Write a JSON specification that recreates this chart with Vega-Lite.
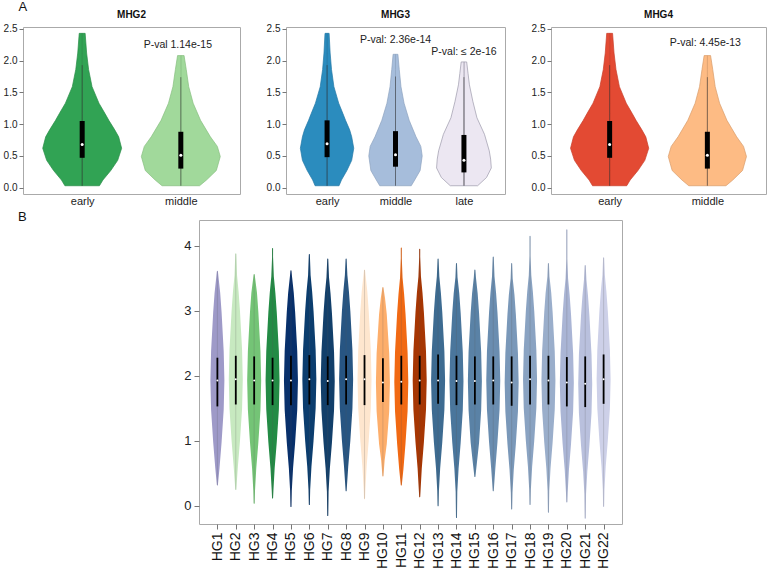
{
"$schema":"https://vega.github.io/schema/vega-lite/v6.json",
"padding":{"left":2,"top":1,"right":2,"bottom":2},
"background":"white",
"title":{"text":"A","anchor":"start","fontSize":13,"fontWeight":"normal","dx":16,"offset":-5},
"datasets":{
"p2":[
{"g":"early","y":0.03,"w":0.175},{"g":"early","y":0.12,"w":0.21},{"g":"early","y":0.27,"w":0.29},{"g":"early","y":0.43,"w":0.36},{"g":"early","y":0.62,"w":0.40},{"g":"early","y":0.80,"w":0.37},{"g":"early","y":0.91,"w":0.33},{"g":"early","y":1.06,"w":0.27},{"g":"early","y":1.17,"w":0.23},{"g":"early","y":1.33,"w":0.17},{"g":"early","y":1.59,"w":0.10},{"g":"early","y":1.86,"w":0.065},{"g":"early","y":2.12,"w":0.045},{"g":"early","y":2.43,"w":0.03},
{"g":"middle","y":0.03,"w":0.19},{"g":"middle","y":0.12,"w":0.26},{"g":"middle","y":0.27,"w":0.36},{"g":"middle","y":0.49,"w":0.40},{"g":"middle","y":0.65,"w":0.37},{"g":"middle","y":0.80,"w":0.30},{"g":"middle","y":1.06,"w":0.20},{"g":"middle","y":1.33,"w":0.125},{"g":"middle","y":1.59,"w":0.08},{"g":"middle","y":1.86,"w":0.055},{"g":"middle","y":2.08,"w":0.033}
],
"p2s":[
{"g":"early","lo":0.03,"q1":0.47,"med":0.68,"q3":1.05,"hi":1.93},
{"g":"middle","lo":0.03,"q1":0.30,"med":0.51,"q3":0.88,"hi":1.74}
],
"p3":[
{"g":"early","y":0.03,"w":0.175},{"g":"early","y":0.12,"w":0.21},{"g":"early","y":0.27,"w":0.29},{"g":"early","y":0.43,"w":0.36},{"g":"early","y":0.62,"w":0.39},{"g":"early","y":0.80,"w":0.36},{"g":"early","y":0.91,"w":0.33},{"g":"early","y":1.06,"w":0.27},{"g":"early","y":1.17,"w":0.23},{"g":"early","y":1.33,"w":0.17},{"g":"early","y":1.59,"w":0.10},{"g":"early","y":1.86,"w":0.065},{"g":"early","y":2.12,"w":0.045},{"g":"early","y":2.43,"w":0.03},
{"g":"middle","y":0.03,"w":0.23},{"g":"middle","y":0.12,"w":0.28},{"g":"middle","y":0.27,"w":0.36},{"g":"middle","y":0.50,"w":0.39},{"g":"middle","y":0.65,"w":0.37},{"g":"middle","y":0.80,"w":0.30},{"g":"middle","y":1.06,"w":0.20},{"g":"middle","y":1.33,"w":0.125},{"g":"middle","y":1.59,"w":0.08},{"g":"middle","y":1.86,"w":0.055},{"g":"middle","y":2.10,"w":0.035},
{"g":"late","y":0.03,"w":0.20},{"g":"late","y":0.16,"w":0.33},{"g":"late","y":0.31,"w":0.40},{"g":"late","y":0.45,"w":0.39},{"g":"late","y":0.58,"w":0.37},{"g":"late","y":0.84,"w":0.30},{"g":"late","y":1.10,"w":0.19},{"g":"late","y":1.36,"w":0.13},{"g":"late","y":1.62,"w":0.08},{"g":"late","y":1.80,"w":0.06},{"g":"late","y":1.98,"w":0.04}
],
"p3s":[
{"g":"early","lo":0.03,"q1":0.48,"med":0.69,"q3":1.06,"hi":1.93},
{"g":"middle","lo":0.03,"q1":0.33,"med":0.52,"q3":0.89,"hi":1.75},
{"g":"late","lo":0.03,"q1":0.24,"med":0.43,"q3":0.83,"hi":1.74}
],
"hg":[
{"g":"HG1","y":0.32,"w":0},{"g":"HG1","y":0.58,"w":0.3},{"g":"HG1","y":0.98,"w":0.6},{"g":"HG1","y":1.48,"w":0.9},{"g":"HG1","y":1.93,"w":1},{"g":"HG1","y":2.38,"w":0.9},{"g":"HG1","y":2.98,"w":0.6},{"g":"HG1","y":3.28,"w":0.4},{"g":"HG1","y":3.53,"w":0.15},{"g":"HG1","y":3.61,"w":0},
{"g":"HG2","y":0.25,"w":0},{"g":"HG2","y":0.6,"w":0.3},{"g":"HG2","y":1.0,"w":0.6},{"g":"HG2","y":1.5,"w":0.9},{"g":"HG2","y":1.95,"w":1},{"g":"HG2","y":2.4,"w":0.9},{"g":"HG2","y":3.0,"w":0.6},{"g":"HG2","y":3.3,"w":0.4},{"g":"HG2","y":3.55,"w":0.18},{"g":"HG2","y":3.88,"w":0},
{"g":"HG3","y":0.04,"w":0},{"g":"HG3","y":0.23,"w":0.12},{"g":"HG3","y":0.58,"w":0.3},{"g":"HG3","y":0.98,"w":0.6},{"g":"HG3","y":1.48,"w":0.9},{"g":"HG3","y":1.93,"w":1},{"g":"HG3","y":2.38,"w":0.9},{"g":"HG3","y":2.98,"w":0.6},{"g":"HG3","y":3.28,"w":0.4},{"g":"HG3","y":3.56,"w":0},
{"g":"HG4","y":0.12,"w":0},{"g":"HG4","y":0.23,"w":0.12},{"g":"HG4","y":0.58,"w":0.3},{"g":"HG4","y":0.98,"w":0.6},{"g":"HG4","y":1.48,"w":0.9},{"g":"HG4","y":1.93,"w":1},{"g":"HG4","y":2.38,"w":0.9},{"g":"HG4","y":2.98,"w":0.6},{"g":"HG4","y":3.28,"w":0.4},{"g":"HG4","y":3.53,"w":0.18},{"g":"HG4","y":3.83,"w":0.07},{"g":"HG4","y":3.96,"w":0},
{"g":"HG5","y":-0.01,"w":0},{"g":"HG5","y":0.23,"w":0.12},{"g":"HG5","y":0.58,"w":0.3},{"g":"HG5","y":0.98,"w":0.6},{"g":"HG5","y":1.48,"w":0.9},{"g":"HG5","y":1.93,"w":1},{"g":"HG5","y":2.38,"w":0.9},{"g":"HG5","y":2.98,"w":0.6},{"g":"HG5","y":3.28,"w":0.4},{"g":"HG5","y":3.53,"w":0.15},{"g":"HG5","y":3.62,"w":0},
{"g":"HG6","y":0.02,"w":0},{"g":"HG6","y":0.25,"w":0.12},{"g":"HG6","y":0.6,"w":0.3},{"g":"HG6","y":1.0,"w":0.6},{"g":"HG6","y":1.5,"w":0.9},{"g":"HG6","y":1.95,"w":1},{"g":"HG6","y":2.4,"w":0.9},{"g":"HG6","y":3.0,"w":0.6},{"g":"HG6","y":3.3,"w":0.4},{"g":"HG6","y":3.55,"w":0.18},{"g":"HG6","y":3.87,"w":0},
{"g":"HG7","y":-0.15,"w":0},{"g":"HG7","y":0.22,"w":0.12},{"g":"HG7","y":0.57,"w":0.3},{"g":"HG7","y":0.97,"w":0.6},{"g":"HG7","y":1.47,"w":0.9},{"g":"HG7","y":1.92,"w":1},{"g":"HG7","y":2.37,"w":0.9},{"g":"HG7","y":2.97,"w":0.6},{"g":"HG7","y":3.27,"w":0.4},{"g":"HG7","y":3.52,"w":0.18},{"g":"HG7","y":3.8,"w":0},
{"g":"HG8","y":0.23,"w":0},{"g":"HG8","y":0.6,"w":0.3},{"g":"HG8","y":1.0,"w":0.6},{"g":"HG8","y":1.5,"w":0.9},{"g":"HG8","y":1.95,"w":1},{"g":"HG8","y":2.4,"w":0.9},{"g":"HG8","y":3.0,"w":0.6},{"g":"HG8","y":3.3,"w":0.4},{"g":"HG8","y":3.55,"w":0.18},{"g":"HG8","y":3.8,"w":0},
{"g":"HG9","y":0.11,"w":0},{"g":"HG9","y":0.25,"w":0.12},{"g":"HG9","y":0.6,"w":0.3},{"g":"HG9","y":1.0,"w":0.6},{"g":"HG9","y":1.5,"w":0.9},{"g":"HG9","y":1.95,"w":1},{"g":"HG9","y":2.4,"w":0.9},{"g":"HG9","y":3.0,"w":0.6},{"g":"HG9","y":3.3,"w":0.4},{"g":"HG9","y":3.55,"w":0.15},{"g":"HG9","y":3.63,"w":0},
{"g":"HG10","y":0.46,"w":0},{"g":"HG10","y":0.7,"w":0.25},{"g":"HG10","y":0.95,"w":0.55},{"g":"HG10","y":1.45,"w":0.9},{"g":"HG10","y":1.9,"w":1},{"g":"HG10","y":2.35,"w":0.9},{"g":"HG10","y":2.95,"w":0.55},{"g":"HG10","y":3.2,"w":0.3},{"g":"HG10","y":3.36,"w":0},
{"g":"HG11","y":0.32,"w":0},{"g":"HG11","y":0.56,"w":0.3},{"g":"HG11","y":0.96,"w":0.6},{"g":"HG11","y":1.46,"w":0.9},{"g":"HG11","y":1.91,"w":1},{"g":"HG11","y":2.36,"w":0.9},{"g":"HG11","y":2.96,"w":0.6},{"g":"HG11","y":3.26,"w":0.4},{"g":"HG11","y":3.51,"w":0.18},{"g":"HG11","y":3.81,"w":0.07},{"g":"HG11","y":3.97,"w":0},
{"g":"HG12","y":0.14,"w":0},{"g":"HG12","y":0.23,"w":0.12},{"g":"HG12","y":0.58,"w":0.3},{"g":"HG12","y":0.98,"w":0.6},{"g":"HG12","y":1.48,"w":0.9},{"g":"HG12","y":1.93,"w":1},{"g":"HG12","y":2.38,"w":0.9},{"g":"HG12","y":2.98,"w":0.6},{"g":"HG12","y":3.28,"w":0.4},{"g":"HG12","y":3.53,"w":0.18},{"g":"HG12","y":3.83,"w":0.07},{"g":"HG12","y":3.95,"w":0},
{"g":"HG13","y":0.0,"w":0},{"g":"HG13","y":0.23,"w":0.12},{"g":"HG13","y":0.58,"w":0.3},{"g":"HG13","y":0.98,"w":0.6},{"g":"HG13","y":1.48,"w":0.9},{"g":"HG13","y":1.93,"w":1},{"g":"HG13","y":2.38,"w":0.9},{"g":"HG13","y":2.98,"w":0.6},{"g":"HG13","y":3.28,"w":0.4},{"g":"HG13","y":3.53,"w":0.18},{"g":"HG13","y":3.8,"w":0},
{"g":"HG14","y":-0.18,"w":0},{"g":"HG14","y":0.22,"w":0.12},{"g":"HG14","y":0.57,"w":0.3},{"g":"HG14","y":0.97,"w":0.6},{"g":"HG14","y":1.47,"w":0.9},{"g":"HG14","y":1.92,"w":1},{"g":"HG14","y":2.37,"w":0.9},{"g":"HG14","y":2.97,"w":0.6},{"g":"HG14","y":3.27,"w":0.4},{"g":"HG14","y":3.52,"w":0.15},{"g":"HG14","y":3.73,"w":0},
{"g":"HG15","y":0.45,"w":0},{"g":"HG15","y":0.62,"w":0.25},{"g":"HG15","y":0.97,"w":0.6},{"g":"HG15","y":1.47,"w":0.9},{"g":"HG15","y":1.92,"w":1},{"g":"HG15","y":2.37,"w":0.9},{"g":"HG15","y":2.97,"w":0.6},{"g":"HG15","y":3.27,"w":0.4},{"g":"HG15","y":3.52,"w":0.15},{"g":"HG15","y":3.63,"w":0},
{"g":"HG16","y":0.23,"w":0},{"g":"HG16","y":0.58,"w":0.3},{"g":"HG16","y":0.98,"w":0.6},{"g":"HG16","y":1.48,"w":0.9},{"g":"HG16","y":1.93,"w":1},{"g":"HG16","y":2.38,"w":0.9},{"g":"HG16","y":2.98,"w":0.6},{"g":"HG16","y":3.28,"w":0.4},{"g":"HG16","y":3.53,"w":0.18},{"g":"HG16","y":3.83,"w":0},
{"g":"HG17","y":-0.05,"w":0},{"g":"HG17","y":0.2,"w":0.12},{"g":"HG17","y":0.55,"w":0.3},{"g":"HG17","y":0.95,"w":0.6},{"g":"HG17","y":1.45,"w":0.9},{"g":"HG17","y":1.9,"w":1},{"g":"HG17","y":2.35,"w":0.9},{"g":"HG17","y":2.95,"w":0.6},{"g":"HG17","y":3.25,"w":0.4},{"g":"HG17","y":3.5,"w":0.15},{"g":"HG17","y":3.73,"w":0},
{"g":"HG18","y":0.02,"w":0},{"g":"HG18","y":0.25,"w":0.12},{"g":"HG18","y":0.6,"w":0.3},{"g":"HG18","y":1.0,"w":0.6},{"g":"HG18","y":1.5,"w":0.9},{"g":"HG18","y":1.95,"w":1},{"g":"HG18","y":2.4,"w":0.9},{"g":"HG18","y":3.0,"w":0.6},{"g":"HG18","y":3.3,"w":0.4},{"g":"HG18","y":3.55,"w":0.18},{"g":"HG18","y":3.85,"w":0.07},{"g":"HG18","y":4.15,"w":0},
{"g":"HG19","y":-0.1,"w":0},{"g":"HG19","y":0.23,"w":0.12},{"g":"HG19","y":0.58,"w":0.3},{"g":"HG19","y":0.98,"w":0.6},{"g":"HG19","y":1.48,"w":0.9},{"g":"HG19","y":1.93,"w":1},{"g":"HG19","y":2.38,"w":0.9},{"g":"HG19","y":2.98,"w":0.6},{"g":"HG19","y":3.28,"w":0.4},{"g":"HG19","y":3.53,"w":0.15},{"g":"HG19","y":3.73,"w":0},
{"g":"HG20","y":0.06,"w":0},{"g":"HG20","y":0.2,"w":0.12},{"g":"HG20","y":0.55,"w":0.3},{"g":"HG20","y":0.95,"w":0.6},{"g":"HG20","y":1.45,"w":0.9},{"g":"HG20","y":1.9,"w":1},{"g":"HG20","y":2.35,"w":0.9},{"g":"HG20","y":2.95,"w":0.6},{"g":"HG20","y":3.25,"w":0.4},{"g":"HG20","y":3.5,"w":0.18},{"g":"HG20","y":3.8,"w":0.07},{"g":"HG20","y":4.25,"w":0},
{"g":"HG21","y":-0.19,"w":0},{"g":"HG21","y":0.18,"w":0.12},{"g":"HG21","y":0.53,"w":0.3},{"g":"HG21","y":0.93,"w":0.6},{"g":"HG21","y":1.43,"w":0.9},{"g":"HG21","y":1.88,"w":1},{"g":"HG21","y":2.33,"w":0.9},{"g":"HG21","y":2.93,"w":0.6},{"g":"HG21","y":3.23,"w":0.4},{"g":"HG21","y":3.48,"w":0.18},{"g":"HG21","y":3.7,"w":0},
{"g":"HG22","y":-0.01,"w":0},{"g":"HG22","y":0.25,"w":0.12},{"g":"HG22","y":0.6,"w":0.3},{"g":"HG22","y":1.0,"w":0.6},{"g":"HG22","y":1.5,"w":0.9},{"g":"HG22","y":1.95,"w":1},{"g":"HG22","y":2.4,"w":0.9},{"g":"HG22","y":3.0,"w":0.6},{"g":"HG22","y":3.3,"w":0.4},{"g":"HG22","y":3.55,"w":0.18},{"g":"HG22","y":3.82,"w":0}
],
"hgs":[
{"g":"HG1","lo":0.32,"hi":3.61,"q1":1.53,"med":1.93,"q3":2.28},
{"g":"HG2","lo":0.25,"hi":3.88,"q1":1.56,"med":1.95,"q3":2.31},
{"g":"HG3","lo":0.04,"hi":3.56,"q1":1.56,"med":1.93,"q3":2.30},
{"g":"HG4","lo":0.12,"hi":3.96,"q1":1.55,"med":1.93,"q3":2.28},
{"g":"HG5","lo":-0.01,"hi":3.62,"q1":1.55,"med":1.93,"q3":2.31},
{"g":"HG6","lo":0.02,"hi":3.87,"q1":1.56,"med":1.95,"q3":2.32},
{"g":"HG7","lo":-0.15,"hi":3.80,"q1":1.55,"med":1.92,"q3":2.30},
{"g":"HG8","lo":0.23,"hi":3.80,"q1":1.56,"med":1.95,"q3":2.31},
{"g":"HG9","lo":0.11,"hi":3.63,"q1":1.55,"med":1.95,"q3":2.32},
{"g":"HG10","lo":0.46,"hi":3.36,"q1":1.60,"med":1.90,"q3":2.27},
{"g":"HG11","lo":0.32,"hi":3.97,"q1":1.56,"med":1.91,"q3":2.31},
{"g":"HG12","lo":0.14,"hi":3.95,"q1":1.56,"med":1.93,"q3":2.31},
{"g":"HG13","lo":0.0,"hi":3.80,"q1":1.57,"med":1.93,"q3":2.33},
{"g":"HG14","lo":-0.18,"hi":3.73,"q1":1.55,"med":1.92,"q3":2.31},
{"g":"HG15","lo":0.45,"hi":3.63,"q1":1.56,"med":1.92,"q3":2.30},
{"g":"HG16","lo":0.23,"hi":3.83,"q1":1.56,"med":1.93,"q3":2.30},
{"g":"HG17","lo":-0.05,"hi":3.73,"q1":1.54,"med":1.90,"q3":2.30},
{"g":"HG18","lo":0.02,"hi":4.15,"q1":1.56,"med":1.95,"q3":2.31},
{"g":"HG19","lo":-0.1,"hi":3.73,"q1":1.56,"med":1.93,"q3":2.31},
{"g":"HG20","lo":0.06,"hi":4.25,"q1":1.53,"med":1.90,"q3":2.29},
{"g":"HG21","lo":-0.19,"hi":3.70,"q1":1.52,"med":1.88,"q3":2.30},
{"g":"HG22","lo":-0.01,"hi":3.82,"q1":1.57,"med":1.95,"q3":2.33}
]
},
"vconcat":[
{"hconcat":[
{"title":"MHG2","width":217,"height":167,
"layer":[
{"data":{"name":"p2"},"transform":[{"filter":{"field":"g","equal":"early"}}],"mark":{"type":"area","orient":"horizontal","color":"#31a354","stroke":"#2a8c48","strokeWidth":0.7},"encoding":{"y":{"field":"y","type":"quantitative","scale":{"domain":[-0.1,2.53],"nice":false,"zero":false},"axis":{"title":null,"values":[0,0.5,1,1.5,2,2.5],"format":".1f"}},"x":{"field":"w","type":"quantitative","scale":{"domain":[-0.6,1.6],"nice":false},"axis":null},"x2":{"datum":0}}},
{"data":{"name":"p2"},"transform":[{"filter":{"field":"g","equal":"early"}}],"mark":{"type":"area","orient":"horizontal","color":"#31a354","stroke":"#2a8c48","strokeWidth":0.7},"encoding":{"y":{"field":"y","type":"quantitative","scale":{"domain":[-0.1,2.53],"nice":false,"zero":false},"axis":{"title":null,"values":[0,0.5,1,1.5,2,2.5],"format":".1f"}},"x":{"field":"w","type":"quantitative","scale":{"domain":[-1.6,0.6],"nice":false,"reverse":true},"axis":null},"x2":{"datum":0}}},
{"data":{"name":"p2"},"transform":[{"filter":{"field":"g","equal":"middle"}}],"mark":{"type":"area","orient":"horizontal","color":"#a1d99b","stroke":"#86bf80","strokeWidth":0.7},"encoding":{"y":{"field":"y","type":"quantitative","scale":{"domain":[-0.1,2.53],"nice":false,"zero":false},"axis":{"title":null,"values":[0,0.5,1,1.5,2,2.5],"format":".1f"}},"x":{"field":"w","type":"quantitative","scale":{"domain":[-1.6,0.6],"nice":false},"axis":null},"x2":{"datum":0}}},
{"data":{"name":"p2"},"transform":[{"filter":{"field":"g","equal":"middle"}}],"mark":{"type":"area","orient":"horizontal","color":"#a1d99b","stroke":"#86bf80","strokeWidth":0.7},"encoding":{"y":{"field":"y","type":"quantitative","scale":{"domain":[-0.1,2.53],"nice":false,"zero":false},"axis":{"title":null,"values":[0,0.5,1,1.5,2,2.5],"format":".1f"}},"x":{"field":"w","type":"quantitative","scale":{"domain":[-0.6,1.6],"nice":false,"reverse":true},"axis":null},"x2":{"datum":0}}},
{"data":{"name":"p2s"},"mark":{"type":"rule","color":"#333","strokeWidth":0.8,"opacity":0.7},"encoding":{"x":{"field":"g","type":"nominal","scale":{"type":"point","padding":0.6,"domain":["early","middle"]},"axis":{"title":null}},"y":{"field":"lo","type":"quantitative","scale":{"domain":[-0.1,2.53],"nice":false,"zero":false},"axis":{"title":null,"values":[0,0.5,1,1.5,2,2.5],"format":".1f"}},"y2":{"field":"hi"}}},
{"data":{"name":"p2s"},"mark":{"type":"rule","color":"black","strokeWidth":5,"strokeCap":"butt"},"encoding":{"x":{"field":"g","type":"nominal","scale":{"type":"point","padding":0.6,"domain":["early","middle"]},"axis":null},"y":{"field":"q1","type":"quantitative","scale":{"domain":[-0.1,2.53],"nice":false,"zero":false},"axis":{"title":null,"values":[0,0.5,1,1.5,2,2.5],"format":".1f"}},"y2":{"field":"q3"}}},
{"data":{"name":"p2s"},"mark":{"type":"point","filled":true,"color":"white","size":9,"opacity":1},"encoding":{"x":{"field":"g","type":"nominal","scale":{"type":"point","padding":0.6,"domain":["early","middle"]},"axis":null},"y":{"field":"med","type":"quantitative","scale":{"domain":[-0.1,2.53],"nice":false,"zero":false},"axis":{"title":null,"values":[0,0.5,1,1.5,2,2.5],"format":".1f"}}}},
{"data":{"values":[{"g":"middle","label":"P-val 1.14e-15"}]},"mark":{"type":"text","fontSize":10.5,"color":"#222","dx":-3},"encoding":{"x":{"field":"g","type":"nominal","scale":{"type":"point","padding":0.6,"domain":["early","middle"]},"axis":null},"y":{"datum":2.24,"type":"quantitative","scale":{"domain":[-0.1,2.53],"nice":false,"zero":false},"axis":{"title":null,"values":[0,0.5,1,1.5,2,2.5],"format":".1f"}},"text":{"field":"label"}}}
],
"resolve":{"scale":{"x":"independent"}}},
{"title":"MHG3","width":219,"height":167,
"layer":[
{"data":{"name":"p3"},"transform":[{"filter":{"field":"g","equal":"early"}}],"mark":{"type":"area","orient":"horizontal","color":"#2b8cbe","stroke":"#2479a6","strokeWidth":0.7},"encoding":{"y":{"field":"y","type":"quantitative","scale":{"domain":[-0.1,2.53],"nice":false,"zero":false},"axis":{"title":null,"values":[0,0.5,1,1.5,2,2.5],"format":".1f"}},"x":{"field":"w","type":"quantitative","scale":{"domain":[-0.6,2.6],"nice":false},"axis":null},"x2":{"datum":0}}},
{"data":{"name":"p3"},"transform":[{"filter":{"field":"g","equal":"early"}}],"mark":{"type":"area","orient":"horizontal","color":"#2b8cbe","stroke":"#2479a6","strokeWidth":0.7},"encoding":{"y":{"field":"y","type":"quantitative","scale":{"domain":[-0.1,2.53],"nice":false,"zero":false},"axis":{"title":null,"values":[0,0.5,1,1.5,2,2.5],"format":".1f"}},"x":{"field":"w","type":"quantitative","scale":{"domain":[-2.6,0.6],"nice":false,"reverse":true},"axis":null},"x2":{"datum":0}}},
{"data":{"name":"p3"},"transform":[{"filter":{"field":"g","equal":"middle"}}],"mark":{"type":"area","orient":"horizontal","color":"#a6bddb","stroke":"#8ea3c0","strokeWidth":0.7},"encoding":{"y":{"field":"y","type":"quantitative","scale":{"domain":[-0.1,2.53],"nice":false,"zero":false},"axis":{"title":null,"values":[0,0.5,1,1.5,2,2.5],"format":".1f"}},"x":{"field":"w","type":"quantitative","scale":{"domain":[-1.6,1.6],"nice":false},"axis":null},"x2":{"datum":0}}},
{"data":{"name":"p3"},"transform":[{"filter":{"field":"g","equal":"middle"}}],"mark":{"type":"area","orient":"horizontal","color":"#a6bddb","stroke":"#8ea3c0","strokeWidth":0.7},"encoding":{"y":{"field":"y","type":"quantitative","scale":{"domain":[-0.1,2.53],"nice":false,"zero":false},"axis":{"title":null,"values":[0,0.5,1,1.5,2,2.5],"format":".1f"}},"x":{"field":"w","type":"quantitative","scale":{"domain":[-1.6,1.6],"nice":false,"reverse":true},"axis":null},"x2":{"datum":0}}},
{"data":{"name":"p3"},"transform":[{"filter":{"field":"g","equal":"late"}}],"mark":{"type":"area","orient":"horizontal","color":"#ece7f2","stroke":"#9c99aa","strokeWidth":0.7},"encoding":{"y":{"field":"y","type":"quantitative","scale":{"domain":[-0.1,2.53],"nice":false,"zero":false},"axis":{"title":null,"values":[0,0.5,1,1.5,2,2.5],"format":".1f"}},"x":{"field":"w","type":"quantitative","scale":{"domain":[-2.6,0.6],"nice":false},"axis":null},"x2":{"datum":0}}},
{"data":{"name":"p3"},"transform":[{"filter":{"field":"g","equal":"late"}}],"mark":{"type":"area","orient":"horizontal","color":"#ece7f2","stroke":"#9c99aa","strokeWidth":0.7},"encoding":{"y":{"field":"y","type":"quantitative","scale":{"domain":[-0.1,2.53],"nice":false,"zero":false},"axis":{"title":null,"values":[0,0.5,1,1.5,2,2.5],"format":".1f"}},"x":{"field":"w","type":"quantitative","scale":{"domain":[-0.6,2.6],"nice":false,"reverse":true},"axis":null},"x2":{"datum":0}}},
{"data":{"name":"p3s"},"mark":{"type":"rule","color":"#333","strokeWidth":0.8,"opacity":0.7},"encoding":{"x":{"field":"g","type":"nominal","scale":{"type":"point","padding":0.6,"domain":["early","middle","late"]},"axis":{"title":null}},"y":{"field":"lo","type":"quantitative","scale":{"domain":[-0.1,2.53],"nice":false,"zero":false},"axis":{"title":null,"values":[0,0.5,1,1.5,2,2.5],"format":".1f"}},"y2":{"field":"hi"}}},
{"data":{"name":"p3s"},"mark":{"type":"rule","color":"black","strokeWidth":5,"strokeCap":"butt"},"encoding":{"x":{"field":"g","type":"nominal","scale":{"type":"point","padding":0.6,"domain":["early","middle","late"]},"axis":null},"y":{"field":"q1","type":"quantitative","scale":{"domain":[-0.1,2.53],"nice":false,"zero":false},"axis":{"title":null,"values":[0,0.5,1,1.5,2,2.5],"format":".1f"}},"y2":{"field":"q3"}}},
{"data":{"name":"p3s"},"mark":{"type":"point","filled":true,"color":"white","size":9,"opacity":1},"encoding":{"x":{"field":"g","type":"nominal","scale":{"type":"point","padding":0.6,"domain":["early","middle","late"]},"axis":null},"y":{"field":"med","type":"quantitative","scale":{"domain":[-0.1,2.53],"nice":false,"zero":false},"axis":{"title":null,"values":[0,0.5,1,1.5,2,2.5],"format":".1f"}}}},
{"data":{"values":[{"g":"middle","label":"P-val: 2.36e-14"}]},"mark":{"type":"text","fontSize":10.5,"color":"#222"},"encoding":{"x":{"field":"g","type":"nominal","scale":{"type":"point","padding":0.6,"domain":["early","middle","late"]},"axis":null},"y":{"datum":2.33,"type":"quantitative","scale":{"domain":[-0.1,2.53],"nice":false,"zero":false},"axis":{"title":null,"values":[0,0.5,1,1.5,2,2.5],"format":".1f"}},"text":{"field":"label"}}},
{"data":{"values":[{"g":"late","label":"P-val: ≤ 2e-16"}]},"mark":{"type":"text","fontSize":10.5,"color":"#222"},"encoding":{"x":{"field":"g","type":"nominal","scale":{"type":"point","padding":0.6,"domain":["early","middle","late"]},"axis":null},"y":{"datum":2.14,"type":"quantitative","scale":{"domain":[-0.1,2.53],"nice":false,"zero":false},"axis":{"title":null,"values":[0,0.5,1,1.5,2,2.5],"format":".1f"}},"text":{"field":"label"}}}
],
"resolve":{"scale":{"x":"independent"}}},
{"title":"MHG4","width":215,"height":167,
"layer":[
{"data":{"name":"p2"},"transform":[{"filter":{"field":"g","equal":"early"}}],"mark":{"type":"area","orient":"horizontal","color":"#e34a33","stroke":"#c83f2b","strokeWidth":0.7},"encoding":{"y":{"field":"y","type":"quantitative","scale":{"domain":[-0.1,2.53],"nice":false,"zero":false},"axis":{"title":null,"values":[0,0.5,1,1.5,2,2.5],"format":".1f"}},"x":{"field":"w","type":"quantitative","scale":{"domain":[-0.6,1.6],"nice":false},"axis":null},"x2":{"datum":0}}},
{"data":{"name":"p2"},"transform":[{"filter":{"field":"g","equal":"early"}}],"mark":{"type":"area","orient":"horizontal","color":"#e34a33","stroke":"#c83f2b","strokeWidth":0.7},"encoding":{"y":{"field":"y","type":"quantitative","scale":{"domain":[-0.1,2.53],"nice":false,"zero":false},"axis":{"title":null,"values":[0,0.5,1,1.5,2,2.5],"format":".1f"}},"x":{"field":"w","type":"quantitative","scale":{"domain":[-1.6,0.6],"nice":false,"reverse":true},"axis":null},"x2":{"datum":0}}},
{"data":{"name":"p2"},"transform":[{"filter":{"field":"g","equal":"middle"}}],"mark":{"type":"area","orient":"horizontal","color":"#fdbb84","stroke":"#d99c6a","strokeWidth":0.7},"encoding":{"y":{"field":"y","type":"quantitative","scale":{"domain":[-0.1,2.53],"nice":false,"zero":false},"axis":{"title":null,"values":[0,0.5,1,1.5,2,2.5],"format":".1f"}},"x":{"field":"w","type":"quantitative","scale":{"domain":[-1.6,0.6],"nice":false},"axis":null},"x2":{"datum":0}}},
{"data":{"name":"p2"},"transform":[{"filter":{"field":"g","equal":"middle"}}],"mark":{"type":"area","orient":"horizontal","color":"#fdbb84","stroke":"#d99c6a","strokeWidth":0.7},"encoding":{"y":{"field":"y","type":"quantitative","scale":{"domain":[-0.1,2.53],"nice":false,"zero":false},"axis":{"title":null,"values":[0,0.5,1,1.5,2,2.5],"format":".1f"}},"x":{"field":"w","type":"quantitative","scale":{"domain":[-0.6,1.6],"nice":false,"reverse":true},"axis":null},"x2":{"datum":0}}},
{"data":{"name":"p2s"},"mark":{"type":"rule","color":"#333","strokeWidth":0.8,"opacity":0.7},"encoding":{"x":{"field":"g","type":"nominal","scale":{"type":"point","padding":0.6,"domain":["early","middle"]},"axis":{"title":null}},"y":{"field":"lo","type":"quantitative","scale":{"domain":[-0.1,2.53],"nice":false,"zero":false},"axis":{"title":null,"values":[0,0.5,1,1.5,2,2.5],"format":".1f"}},"y2":{"field":"hi"}}},
{"data":{"name":"p2s"},"mark":{"type":"rule","color":"black","strokeWidth":5,"strokeCap":"butt"},"encoding":{"x":{"field":"g","type":"nominal","scale":{"type":"point","padding":0.6,"domain":["early","middle"]},"axis":null},"y":{"field":"q1","type":"quantitative","scale":{"domain":[-0.1,2.53],"nice":false,"zero":false},"axis":{"title":null,"values":[0,0.5,1,1.5,2,2.5],"format":".1f"}},"y2":{"field":"q3"}}},
{"data":{"name":"p2s"},"mark":{"type":"point","filled":true,"color":"white","size":9,"opacity":1},"encoding":{"x":{"field":"g","type":"nominal","scale":{"type":"point","padding":0.6,"domain":["early","middle"]},"axis":null},"y":{"field":"med","type":"quantitative","scale":{"domain":[-0.1,2.53],"nice":false,"zero":false},"axis":{"title":null,"values":[0,0.5,1,1.5,2,2.5],"format":".1f"}}}},
{"data":{"values":[{"g":"middle","label":"P-val: 4.45e-13"}]},"mark":{"type":"text","fontSize":10.5,"color":"#222","dx":-2},"encoding":{"x":{"field":"g","type":"nominal","scale":{"type":"point","padding":0.6,"domain":["early","middle"]},"axis":null},"y":{"datum":2.28,"type":"quantitative","scale":{"domain":[-0.1,2.53],"nice":false,"zero":false},"axis":{"title":null,"values":[0,0.5,1,1.5,2,2.5],"format":".1f"}},"text":{"field":"label"}}}
],
"resolve":{"scale":{"x":"independent"}}}
],"spacing":24},
{"title":{"text":"B","anchor":"start","fontSize":13,"fontWeight":"normal","dx":-5,"offset":-4},
"hconcat":[
{"width":160,"height":20,"data":{"values":[]},"mark":"point","view":{"stroke":null}},
{"width":423,"height":304,
"layer":[
{"data":{"name":"hg"},"mark":{"type":"trail"},"encoding":{
"x":{"field":"g","type":"nominal","scale":{"type":"point","padding":1.54,"domain":["HG1","HG2","HG3","HG4","HG5","HG6","HG7","HG8","HG9","HG10","HG11","HG12","HG13","HG14","HG15","HG16","HG17","HG18","HG19","HG20","HG21","HG22"]},"axis":{"title":null,"labelAngle":-90,"labelFontSize":14,"ticks":true,"tickSize":5,"labelPadding":3,"labelColor":"#111"}},
"y":{"field":"y","type":"quantitative","scale":{"domain":[-0.28,4.4],"nice":false,"zero":false},"axis":{"title":null,"values":[0,1,2,3,4],"labelFontSize":13,"tickSize":5,"labelPadding":3}},
"size":{"field":"w","type":"quantitative","scale":{"domain":[0,1],"range":[0,14]},"legend":null},
"color":{"field":"g","type":"nominal","scale":{"domain":["HG1","HG2","HG3","HG4","HG5","HG6","HG7","HG8","HG9","HG10","HG11","HG12","HG13","HG14","HG15","HG16","HG17","HG18","HG19","HG20","HG21","HG22"],"range":["#9e9ac8","#c7e9c0","#74c476","#238b45","#08306b","#0b3d6e","#123f6a","#275582","#fee6ce","#fdae6b","#f16913","#a63603","#3d6b91","#4a769c","#5a82a6","#6a8db0","#7a98b9","#8aa3c2","#9aaecb","#aab5d5","#b9c0dd","#cdd0e8"]},"legend":null},
"order":{"field":"y","type":"quantitative"}}},
{"data":{"name":"hgs"},"mark":{"type":"rule","color":"#555","strokeWidth":0.6,"opacity":0.35},"encoding":{
"x":{"field":"g","type":"nominal","scale":{"type":"point","padding":1.54,"domain":["HG1","HG2","HG3","HG4","HG5","HG6","HG7","HG8","HG9","HG10","HG11","HG12","HG13","HG14","HG15","HG16","HG17","HG18","HG19","HG20","HG21","HG22"]},"axis":{"title":null,"labelAngle":-90,"labelFontSize":14,"ticks":true,"tickSize":5,"labelPadding":3,"labelColor":"#111"}},
"y":{"field":"lo","type":"quantitative","scale":{"domain":[-0.28,4.4],"nice":false,"zero":false},"axis":{"title":null,"values":[0,1,2,3,4],"labelFontSize":13,"tickSize":5,"labelPadding":3}},
"y2":{"field":"hi"}}},
{"data":{"name":"hgs"},"mark":{"type":"rule","color":"black","strokeWidth":1.8,"strokeCap":"butt"},"encoding":{
"x":{"field":"g","type":"nominal","scale":{"type":"point","padding":1.54,"domain":["HG1","HG2","HG3","HG4","HG5","HG6","HG7","HG8","HG9","HG10","HG11","HG12","HG13","HG14","HG15","HG16","HG17","HG18","HG19","HG20","HG21","HG22"]},"axis":{"title":null,"labelAngle":-90,"labelFontSize":14,"ticks":true,"tickSize":5,"labelPadding":3,"labelColor":"#111"}},
"y":{"field":"q1","type":"quantitative","scale":{"domain":[-0.28,4.4],"nice":false,"zero":false},"axis":{"title":null,"values":[0,1,2,3,4],"labelFontSize":13,"tickSize":5,"labelPadding":3}},
"y2":{"field":"q3"}}},
{"data":{"name":"hgs"},"mark":{"type":"point","filled":true,"color":"white","size":4,"opacity":1},"encoding":{
"x":{"field":"g","type":"nominal","scale":{"type":"point","padding":1.54,"domain":["HG1","HG2","HG3","HG4","HG5","HG6","HG7","HG8","HG9","HG10","HG11","HG12","HG13","HG14","HG15","HG16","HG17","HG18","HG19","HG20","HG21","HG22"]},"axis":{"title":null,"labelAngle":-90,"labelFontSize":14,"ticks":true,"tickSize":5,"labelPadding":3,"labelColor":"#111"}},
"y":{"field":"med","type":"quantitative","scale":{"domain":[-0.28,4.4],"nice":false,"zero":false},"axis":{"title":null,"values":[0,1,2,3,4],"labelFontSize":13,"tickSize":5,"labelPadding":3}}}}
]}
],"spacing":0}
],
"spacing":3,
"config":{
"font":"Liberation Sans",
"view":{"stroke":"#aaa","strokeWidth":1},
"axis":{"grid":false,"domain":false,"tickColor":"#777","labelColor":"#222","labelFont":"Liberation Sans"},
"axisY":{"tickSize":4,"labelFontSize":10,"labelPadding":2},
"axisX":{"ticks":false,"labelFontSize":11,"labelPadding":1,"labelAngle":0},
"title":{"fontSize":10,"fontWeight":"bold","font":"Liberation Sans","color":"#111","offset":4}
}
}
